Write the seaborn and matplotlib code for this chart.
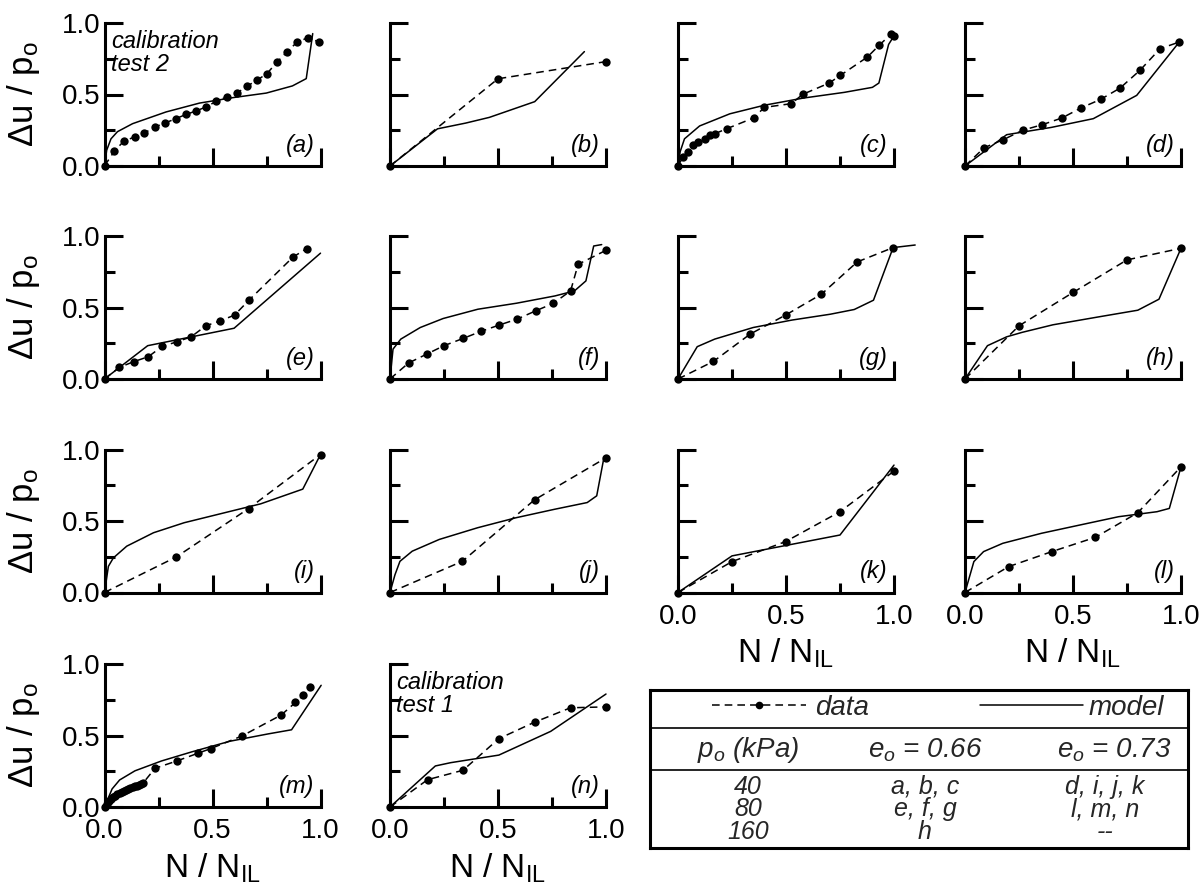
import numpy as np
import pandas as pd
import matplotlib
matplotlib.use("Agg")
import matplotlib.pyplot as plt
import seaborn as sns
from matplotlib.ticker import FixedLocator, FixedFormatter
from matplotlib.lines import Line2D

# ---------------- data ----------------
tick_vals = [0.0, 0.5, 1.0]
minor_vals = [0.25, 0.75]
tick_labels = ["0.0", "0.5", "1.0"]

a_data_x = [0, 0.046, 0.089, 0.139, 0.185, 0.233, 0.281, 0.33, 0.378, 0.424, 0.47, 0.517,
            0.566, 0.613, 0.659, 0.705, 0.752, 0.799, 0.844, 0.892, 0.944, 0.992]
a_data_y = [0, 0.105, 0.173, 0.203, 0.231, 0.273, 0.301, 0.331, 0.361, 0.385, 0.413, 0.452,
            0.483, 0.51, 0.557, 0.599, 0.646, 0.727, 0.797, 0.867, 0.898, 0.867]
a_model_x = [0, 0.01, 0.03, 0.06, 0.13, 0.285, 0.44, 0.594, 0.749, 0.87, 0.934, 0.964]
a_model_y = [0, 0.11, 0.19, 0.24, 0.296, 0.378, 0.44, 0.478, 0.51, 0.56, 0.611, 0.926]

b_data_x = [0, 0.5, 1.0]
b_data_y = [0, 0.61, 0.73]
b_model_x = [0, 0.22, 0.35, 0.46, 0.67, 0.9]
b_model_y = [0, 0.26, 0.30, 0.34, 0.45, 0.8]

c_data_x = [0, 0.023, 0.047, 0.070, 0.093, 0.125, 0.148, 0.171, 0.226, 0.350, 0.40, 0.525,
            0.577, 0.70, 0.752, 0.877, 0.931, 0.985, 1.0]
c_data_y = [0, 0.063, 0.098, 0.145, 0.168, 0.191, 0.214, 0.226, 0.261, 0.336, 0.41, 0.436,
            0.501, 0.58, 0.634, 0.762, 0.844, 0.92, 0.91]
c_model_x = [0, 0.01, 0.03, 0.1, 0.24, 0.4, 0.58, 0.77, 0.9, 0.93, 0.975, 1.0]
c_model_y = [0, 0.1, 0.19, 0.28, 0.365, 0.425, 0.475, 0.515, 0.55, 0.58, 0.85, 0.91]

d_data_x = [0, 0.089, 0.177, 0.267, 0.358, 0.449, 0.537, 0.628, 0.718, 0.81, 0.903, 0.992]
d_data_y = [0, 0.128, 0.184, 0.25, 0.289, 0.336, 0.406, 0.466, 0.545, 0.669, 0.82, 0.867]
d_model_x = [0, 0.193, 0.4, 0.594, 0.795, 0.992]
d_model_y = [0, 0.219, 0.27, 0.331, 0.494, 0.867]

e_data_x = [0, 0.068, 0.135, 0.203, 0.267, 0.335, 0.401, 0.469, 0.537, 0.602, 0.67, 0.873, 0.936]
e_data_y = [0, 0.081, 0.121, 0.156, 0.228, 0.26, 0.295, 0.372, 0.407, 0.447, 0.553, 0.853, 0.912]
e_model_x = [0, 0.2, 0.6, 1.0]
e_model_y = [0, 0.233, 0.355, 0.88]

f_data_x = [0, 0.086, 0.17, 0.25, 0.339, 0.421, 0.505, 0.589, 0.675, 0.755, 0.836, 0.871, 1.0]
f_data_y = [0, 0.112, 0.174, 0.233, 0.284, 0.333, 0.377, 0.419, 0.477, 0.528, 0.616, 0.802, 0.9]
f_model_x = [0, 0.014, 0.05, 0.14, 0.246, 0.407, 0.586, 0.764, 0.854, 0.907, 0.943, 0.98]
f_model_y = [0, 0.209, 0.279, 0.36, 0.423, 0.488, 0.53, 0.581, 0.616, 0.686, 0.93, 0.94]

g_data_x = [0, 0.164, 0.334, 0.498, 0.664, 0.83, 0.996]
g_data_y = [0, 0.123, 0.314, 0.447, 0.593, 0.819, 0.919]
g_model_x = [0, 0.089, 0.17, 0.348, 0.527, 0.705, 0.816, 0.905, 0.996, 1.098]
g_model_y = [0, 0.226, 0.279, 0.36, 0.412, 0.453, 0.486, 0.551, 0.919, 0.937]

h_data_x = [0, 0.25, 0.5, 0.75, 1.0]
h_data_y = [0, 0.372, 0.605, 0.833, 0.914]
h_model_x = [0, 0.104, 0.193, 0.264, 0.407, 0.621, 0.8, 0.898, 1.0]
h_model_y = [0, 0.233, 0.295, 0.326, 0.379, 0.435, 0.481, 0.558, 0.914]

i_data_x = [0, 0.333, 0.667, 1.0]
i_data_y = [0, 0.249, 0.587, 0.965]
i_model_x = [0, 0.018, 0.041, 0.103, 0.227, 0.369, 0.546, 0.723, 0.918, 1.0]
i_model_y = [0, 0.183, 0.242, 0.324, 0.418, 0.488, 0.554, 0.62, 0.723, 0.965]

j_data_x = [0, 0.335, 0.669, 1.0]
j_data_y = [0, 0.218, 0.648, 0.942]
j_model_x = [0, 0.023, 0.046, 0.103, 0.228, 0.406, 0.584, 0.762, 0.913, 0.957, 0.99]
j_model_y = [0, 0.124, 0.218, 0.289, 0.371, 0.453, 0.523, 0.582, 0.629, 0.676, 0.94]

k_data_x = [0, 0.25, 0.498, 0.75, 1.0]
k_data_y = [0, 0.216, 0.356, 0.565, 0.849]
k_model_x = [0, 0.25, 0.455, 0.75, 1.0]
k_model_y = [0, 0.256, 0.316, 0.402, 0.891]

l_data_x = [0, 0.202, 0.402, 0.604, 0.8, 1.0]
l_data_y = [0, 0.181, 0.286, 0.386, 0.558, 0.879]
l_model_x = [0, 0.041, 0.086, 0.175, 0.354, 0.532, 0.711, 0.889, 0.946, 1.0]
l_model_y = [0, 0.216, 0.286, 0.344, 0.414, 0.472, 0.53, 0.565, 0.588, 0.879]

m_data_x = [0, 0.01, 0.02, 0.03, 0.04, 0.05, 0.06, 0.07, 0.08, 0.09, 0.10, 0.11, 0.12, 0.13,
            0.14, 0.15, 0.16, 0.17, 0.18, 0.234, 0.335, 0.431, 0.493, 0.637, 0.819, 0.884,
            0.921, 0.951]
m_data_y = [0, 0.02, 0.04, 0.055, 0.07, 0.08, 0.09, 0.10, 0.105, 0.115, 0.12, 0.125, 0.13,
            0.14, 0.145, 0.15, 0.155, 0.16, 0.17, 0.271, 0.322, 0.375, 0.409, 0.497, 0.644,
            0.731, 0.784, 0.841]
m_model_x = [0, 0.035, 0.07, 0.141, 0.264, 0.405, 0.581, 0.757, 0.866, 1.003]
m_model_y = [0, 0.126, 0.189, 0.253, 0.322, 0.386, 0.46, 0.511, 0.54, 0.851]

n_data_x = [0, 0.174, 0.338, 0.504, 0.669, 0.836, 1.0]
n_data_y = [0, 0.191, 0.257, 0.478, 0.593, 0.694, 0.70]
n_model_x = [0, 0.21, 0.281, 0.504, 0.744, 1.0]
n_model_y = [0, 0.287, 0.31, 0.363, 0.529, 0.79]

panel_names = ["a", "b", "c", "d", "e", "f", "g", "h", "i", "j", "k", "l", "m", "n"]
panel_data = {
    "a": (a_data_x, a_data_y, a_model_x, a_model_y),
    "b": (b_data_x, b_data_y, b_model_x, b_model_y),
    "c": (c_data_x, c_data_y, c_model_x, c_model_y),
    "d": (d_data_x, d_data_y, d_model_x, d_model_y),
    "e": (e_data_x, e_data_y, e_model_x, e_model_y),
    "f": (f_data_x, f_data_y, f_model_x, f_model_y),
    "g": (g_data_x, g_data_y, g_model_x, g_model_y),
    "h": (h_data_x, h_data_y, h_model_x, h_model_y),
    "i": (i_data_x, i_data_y, i_model_x, i_model_y),
    "j": (j_data_x, j_data_y, j_model_x, j_model_y),
    "k": (k_data_x, k_data_y, k_model_x, k_model_y),
    "l": (l_data_x, l_data_y, l_model_x, l_model_y),
    "m": (m_data_x, m_data_y, m_model_x, m_model_y),
    "n": (n_data_x, n_data_y, n_model_x, n_model_y),
}
calib_text = {"a": "calibration\ntest 2", "n": "calibration\ntest 1"}

table_header = ["$p_o$ (kPa)", "$e_o$ = 0.66", "$e_o$ = 0.73"]
table_col1 = ["40", "80", "160"]
table_col2 = ["a, b, c", "e, f, g", "h"]
table_col3 = ["d, i, j, k", "l, m, n", "--"]

# ---------------- style ----------------
sns.set_theme(style="ticks")
plt.rcParams["font.family"] = ["Liberation Sans", "DejaVu Sans"]
plt.rcParams["mathtext.fontset"] = "custom"
plt.rcParams["mathtext.rm"] = "Liberation Sans"
plt.rcParams["mathtext.it"] = "Liberation Sans:italic"
plt.rcParams["mathtext.bf"] = "Liberation Sans:bold"

W, H = 1201, 890
fig = plt.figure(figsize=(W / 100, H / 100), dpi=100)
fig.patch.set_facecolor("white")

col_left = [104.5, 390, 678, 965]
row_bottom = [166, 379, 592.5, 807]
AW, AH = 216, 143

DASH = (0, (5, 3.3))
LW = 1.1

for idx, name in enumerate(panel_names):
    r, c = divmod(idx, 4)
    ax = fig.add_axes([col_left[c] / W, 1 - row_bottom[r] / H, AW / W, AH / H])
    ax.set_facecolor("white")
    dx, dy, mx, my = panel_data[name]
    sns.lineplot(x=mx, y=my, ax=ax, color="black", lw=LW, sort=False,
                 estimator=None, clip_on=False)
    sns.lineplot(x=dx, y=dy, ax=ax, color="black", lw=LW, linestyle=DASH,
                 marker="o", markersize=6, markeredgewidth=0, sort=False,
                 estimator=None, clip_on=False)
    ax.set_xlim(0, 1)
    ax.set_ylim(0, 1)
    for axis in (ax.xaxis, ax.yaxis):
        axis.set_major_locator(FixedLocator(tick_vals))
        axis.set_minor_locator(FixedLocator(minor_vals))
        axis.set_major_formatter(FixedFormatter(tick_labels))
    ax.tick_params(which="major", direction="in", length=13, width=2.2,
                   labelsize=20, color="black", labelcolor="black")
    ax.tick_params(which="minor", direction="in", length=7, width=2.2, color="black")
    ax.tick_params(axis="y", which="major", pad=3)
    ax.tick_params(axis="x", which="major", pad=8)
    sns.despine(ax=ax)
    for s in ("left", "bottom"):
        ax.spines[s].set_linewidth(2.2)
        ax.spines[s].set_color("black")
        ax.spines[s].set_capstyle("projecting")
    show_x = name in ("k", "l", "m", "n")
    show_y = c == 0
    ax.tick_params(labelbottom=show_x, labelleft=show_y)
    ax.set_xlabel("")
    ax.set_ylabel("")
    if show_y:
        ax.set_ylabel("Δu / p$_{\\mathregular{o}}$", fontsize=25, color="black")
        ax.yaxis.set_label_coords(-0.29, 0.5)
    if show_x:
        ax.set_xlabel("N / N$_{\\mathregular{IL}}$", fontsize=24, color="black")
        ax.xaxis.set_label_coords(0.5, -0.31)
    ax.text(0.972, 0.098, f"({name})", transform=ax.transAxes, ha="right",
            va="baseline", fontsize=17, style="italic", color="black")
    if name in calib_text:
        ax.text(0.03, 0.95, calib_text[name], transform=ax.transAxes, ha="left",
                va="top", fontsize=17, style="italic", color="black", linespacing=1.0)

# ---------------- legend / table box ----------------
bx0, bx1, by0, by1 = 650, 1188, 690, 848
lax = fig.add_axes([bx0 / W, 1 - by1 / H, (bx1 - bx0) / W, (by1 - by0) / H])
lax.set_xlim(0, 1)
lax.set_ylim(0, 1)
lax.set_xticks([])
lax.set_yticks([])
lax.set_facecolor("white")
for s in lax.spines.values():
    s.set_visible(True)
    s.set_linewidth(2.2)
    s.set_color("black")
lax.axhline(1 - 0.24, color="black", lw=1.2)
lax.axhline(1 - 0.506, color="black", lw=1.2)

FS = 20
h_data = Line2D([], [], color="black", lw=LW, linestyle=DASH, marker="o",
                markersize=5.5, markeredgewidth=0)
h_model = Line2D([], [], color="black", lw=LW)
leg1 = lax.legend([h_data], ["data"], loc="center left", bbox_to_anchor=(0.115, 0.885),
                  frameon=False, handlelength=3.4, handletextpad=0.3, numpoints=1,
                  prop={"style": "italic", "size": FS}, borderaxespad=0, borderpad=0)
lax.add_artist(leg1)
lax.legend([h_model], ["model"], loc="center left", bbox_to_anchor=(0.613, 0.885),
           frameon=False, handlelength=3.7, handletextpad=0.2,
           prop={"style": "italic", "size": FS}, borderaxespad=0, borderpad=0)

col_x = [0.182, 0.511, 0.846]
head_x = [0.182, 0.511, 0.862]
for hx, ht in zip(head_x, table_header):
    lax.text(hx, 1 - 0.38, ht, ha="center", va="center", fontsize=FS, style="italic")
for cx, col in zip(col_x, (table_col1, table_col2, table_col3)):
    lax.text(cx, 1 - 0.755, "\n".join(col), ha="center", va="center", fontsize=18,
             style="italic", linespacing=0.92, multialignment="center")

fig.savefig("out.png", dpi=100, facecolor="white")
